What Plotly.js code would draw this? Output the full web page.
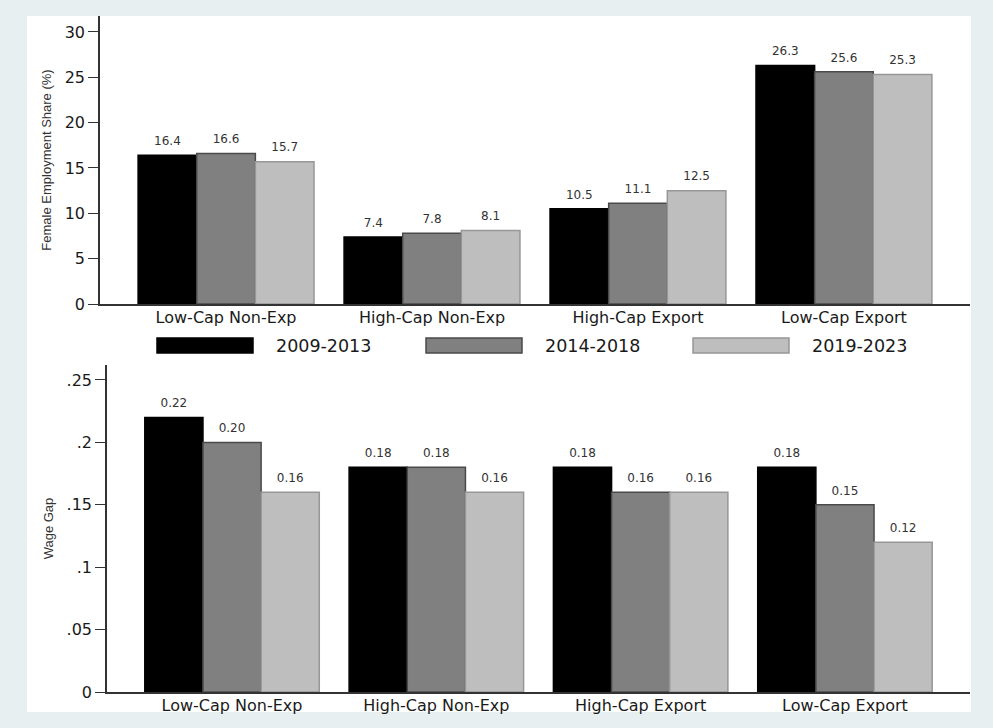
<!DOCTYPE html>
<html><head><meta charset="utf-8">
<script src="https://cdn.plot.ly/plotly-3.0.1.min.js"></script>
<style>html,body{margin:0;padding:0;background:#e8eff1;}</style>
</head><body><div id="chart" style="width:993px;height:728px;"></div>
<script>
// ---- data ----
const categories = ['Low-Cap Non-Exp', 'High-Cap Non-Exp', 'High-Cap Export', 'Low-Cap Export'];
const periods = ['2009-2013', '2014-2018', '2019-2023'];
const femaleShare2009 = [16.4, 7.4, 10.5, 26.3];
const femaleShare2014 = [16.6, 7.8, 11.1, 25.6];
const femaleShare2019 = [15.7, 8.1, 12.5, 25.3];
const wageGap2009 = [0.22, 0.18, 0.18, 0.18];
const wageGap2014 = [0.20, 0.18, 0.16, 0.15];
const wageGap2019 = [0.16, 0.16, 0.16, 0.12];
const shareTickVals = [0, 5, 10, 15, 20, 25, 30];
const shareTickText = ['0', '5', '10', '15', '20', '25', '30'];
const gapTickVals = [0, 0.05, 0.1, 0.15, 0.2, 0.25];
const gapTickText = ['0', '.05', '.1', '.15', '.2', '.25'];
const shareTitle = 'Female Employment Share (%)';
const gapTitle = 'Wage Gap';

// ---- styles ----
const fills = ['#000000', '#808080', '#bebebe'];
const edges = ['#000000', '#4a4a4a', '#979797'];
const WIDE = 'DejaVu Sans, Verdana, sans-serif';
const TITLEFONT = 'Liberation Sans, Arial, sans-serif';
const GAP = 0.146;

// plot area in pixels
const PL = 100, PT = 16, PW = 870, PH = 696;
const px2x = p => (p - PL) / PW;
const px2y = p => 1 - (p - PT) / PH;

const shareSeries = [femaleShare2009, femaleShare2014, femaleShare2019];
const gapSeries = [wageGap2009, wageGap2014, wageGap2019];

const traces = [];
function addPanel(series, xa, ya, fmt) {
  series.forEach((vals, i) => {
    traces.push({
      type: 'bar', x: categories, y: vals, name: periods[i],
      xaxis: xa, yaxis: ya, showlegend: false,
      marker: {color: fills[i], line: {color: edges[i], width: 1.5}},
      hovertemplate: '%{x}<br>' + periods[i] + ': %{y' + fmt + '}<extra></extra>'
    });
  });
  // value labels, grouped the same way as the bars
  series.forEach((vals, i) => {
    traces.push({
      type: 'scatter', mode: 'markers+text', x: categories, y: vals, name: periods[i] + ' label',
      xaxis: xa, yaxis: ya, showlegend: false, hoverinfo: 'skip', cliponaxis: false,
      marker: {size: 10, opacity: 0},
      texttemplate: '%{y' + fmt + '}', textposition: 'top center',
      textfont: {family: WIDE, size: 12, color: '#333'}
    });
  });
}
addPanel(shareSeries, 'x', 'y', ':.1f');
addPanel(gapSeries, 'x2', 'y2', ':.2f');

// legend built from series names and colours
const legendSwatchLeft = [157, 426, 693];
const shapes = [{
  type: 'rect', xref: 'paper', yref: 'paper', layer: 'below',
  x0: px2x(27), x1: px2x(971), y0: px2y(16), y1: px2y(712),
  fillcolor: '#ffffff', line: {width: 0}
}];
const annotations = [];
periods.forEach((p, i) => {
  const l = legendSwatchLeft[i];
  shapes.push({
    type: 'rect', xref: 'paper', yref: 'paper',
    x0: px2x(l), x1: px2x(l + 96), y0: px2y(353), y1: px2y(338),
    fillcolor: fills[i], line: {color: edges[i], width: 1.5}
  });
  annotations.push({
    xref: 'paper', yref: 'paper', x: px2x(l + 117), y: px2y(346),
    xanchor: 'left', yanchor: 'middle', showarrow: false, text: p,
    font: {family: WIDE, size: 17.5, color: '#1a1a1a'}
  });
});

const xCommon = {
  type: 'category', range: [-0.612, 3.612], showline: true, linecolor: '#333',
  linewidth: 1.5, ticks: '', showgrid: false, zeroline: false, fixedrange: true,
  tickfont: {family: WIDE, size: 16, color: '#1a1a1a'}, ticklabelstandoff: -2
};
const yCommon = {
  ticks: 'outside', ticklen: 10, tickwidth: 1, tickcolor: '#333',
  showline: true, linecolor: '#333', linewidth: 1.5, showgrid: false,
  zeroline: false, fixedrange: true,
  tickfont: {family: WIDE, size: 16, color: '#1a1a1a'}
};

const layout = {
  width: 993, height: 728,
  margin: {l: PL, r: 993 - PL - PW, t: PT, b: 728 - PT - PH, pad: 0},
  paper_bgcolor: '#e8eff1', plot_bgcolor: 'rgba(0,0,0,0)',
  barmode: 'group', bargap: GAP, bargroupgap: 0,
  scattermode: 'group', scattergap: GAP,
  showlegend: false,
  xaxis: Object.assign({}, xCommon, {domain: [0, 1], anchor: 'y'}),
  yaxis: Object.assign({}, yCommon, {
    domain: [px2y(304), 1], anchor: 'x', range: [0, 31.76],
    tickvals: shareTickVals, ticktext: shareTickText,
    title: {text: shareTitle, standoff: 10, font: {family: TITLEFONT, size: 13, color: '#333'}}
  }),
  xaxis2: Object.assign({}, xCommon, {domain: [px2x(107), 1], anchor: 'y2'}),
  yaxis2: Object.assign({}, yCommon, {
    domain: [px2y(692), px2y(365)], anchor: 'x2', range: [0, 0.262],
    tickvals: gapTickVals, ticktext: gapTickText,
    title: {text: gapTitle, standoff: 10, font: {family: TITLEFONT, size: 13, color: '#333'}}
  }),
  shapes: shapes,
  annotations: annotations
};

Plotly.newPlot('chart', traces, layout, {displayModeBar: false});
</script>
</body></html>
